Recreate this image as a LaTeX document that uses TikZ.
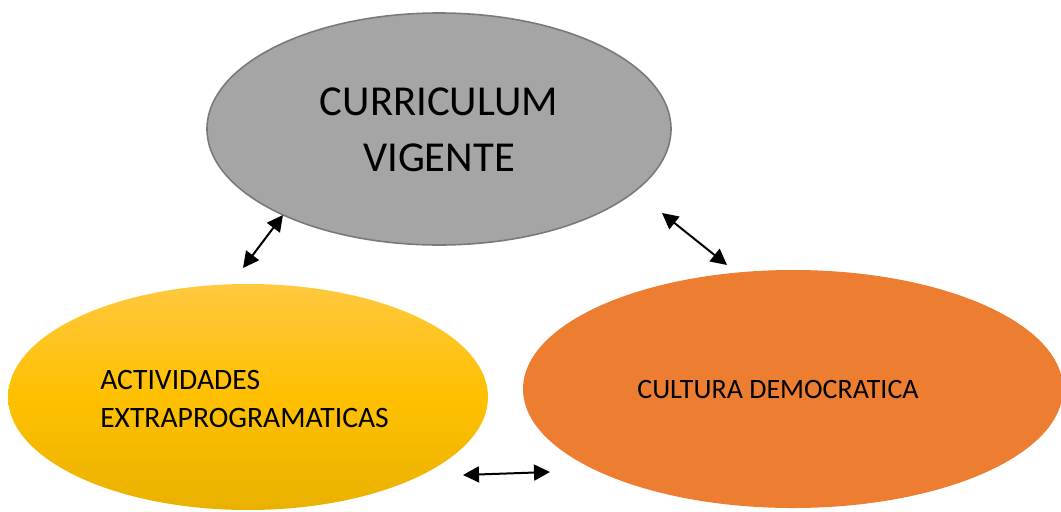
\documentclass[tikz,border=0pt]{standalone}
\usepackage{fontspec}
\setmainfont{Carlito}
\usetikzlibrary{shapes.geometric,arrows.meta}
\definecolor{grayfill}{HTML}{A5A5A5}
\definecolor{grayline}{HTML}{7A7A7A}
\definecolor{orangefill}{HTML}{ED7D31}
\definecolor{yeltop}{HTML}{FFC83F}
\definecolor{yelmid}{HTML}{FFC000}
\definecolor{yelbot}{HTML}{E9B200}
\tikzset{
  blob/.style={ellipse, inner sep=0pt},
  lbl/.style={text=black, inner sep=0pt},
  link/.style={line width=1.5pt, {Triangle[length=12pt,width=12pt]}-{Triangle[length=12pt,width=12pt]}}
}
\begin{document}
\begin{tikzpicture}[x=0.75pt,y=-0.75pt]
\useasboundingbox (0,0) rectangle (1061,511);
% ellipses
\node[blob, draw=grayline, line width=1.2pt, fill=grayfill, minimum width=464*0.75pt, minimum height=232*0.75pt] (cur) at (439,129) {};
\node[blob, top color=yeltop, bottom color=yelbot, middle color=yelmid, minimum width=480*0.75pt, minimum height=226*0.75pt] (act) at (248,397) {};
\node[blob, fill=orangefill, minimum width=540*0.75pt, minimum height=238*0.75pt] (cul) at (793,389) {};
% texts
\node[lbl, align=center, font=\fontsize{32}{42}\selectfont] (curt) at (439,130) {CURRICULUM\\VIGENTE};
\node[lbl, align=left, anchor=west, font=\fontsize{22.2}{28.5}\selectfont] (actt) at (100,399) {ACTIVIDADES\\EXTRAPROGRAMATICAS};
\node[lbl, font=\fontsize{21}{25}\selectfont] (cult) at (778,390) {CULTURA DEMOCRATICA};
% connector ends
\coordinate (a1) at (243,268);
\coordinate (a2) at (283,215);
\coordinate (b1) at (662,213);
\coordinate (b2) at (727,265);
\coordinate (c1) at (463,475);
\coordinate (c2) at (550,472);
\draw[link] (a1) -- (a2);
\draw[link] (b1) -- (b2);
\draw[link] (c1) -- (c2);
\end{tikzpicture}
\end{document}
